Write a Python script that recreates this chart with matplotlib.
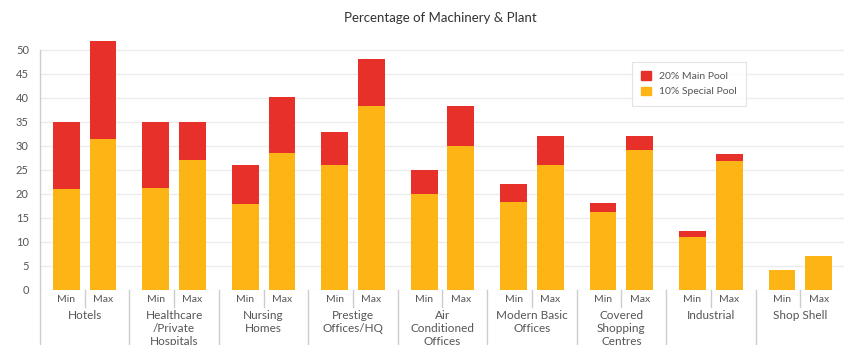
import matplotlib.pyplot as plt
import matplotlib.transforms as mtransforms
from matplotlib.patches import Patch
import numpy as np

plt.rcParams['font.family'] = ['Lato', 'DejaVu Sans']

groups = ['Hotels', 'Healthcare\n/Private\nHospitals', 'Nursing\nHomes',
          'Prestige\nOffices/HQ', 'Air\nConditioned\nOffices', 'Modern Basic\nOffices',
          'Covered\nShopping\nCentres', 'Industrial', 'Shop Shell']
special_min = [21, 21.2, 18, 26, 20, 18.3, 16.2, 11.1, 4.2]
total_min = [35, 35, 26, 33, 25, 22.1, 18.2, 12.2, 4.2]
special_max = [31.4, 27, 28.5, 38.3, 30, 26, 29.2, 26.9, 7.1]
total_max = [51.8, 35, 40.3, 48.2, 38.3, 32, 32, 28.3, 7.1]

red = '#e8302a'
yellow = '#fdb515'

fig = plt.figure(figsize=(8.45, 3.45), dpi=100)
fig.set_facecolor('w')
ax = fig.add_axes([40/845, 55/345, 805/845, 252/345])

n = len(groups)
centers = np.arange(n) + 0.5
off, w = 0.205, 0.30
smin = np.array(special_min); smax = np.array(special_max)
mmin = np.array(total_min) - smin
mmax = np.array(total_max) - smax

ax.bar(centers - off, smin, w, color=yellow, zorder=2)
ax.bar(centers - off, mmin, w, bottom=smin, color=red, zorder=2)
ax.bar(centers + off, smax, w, color=yellow, zorder=2)
ax.bar(centers + off, mmax, w, bottom=smax, color=red, zorder=2)

ax.set_xlim(0, n)
ax.set_ylim(0, 52.5)
ax.set_yticks(range(0, 51, 5))
ax.yaxis.grid(True, color='#ececec', lw=1, zorder=0)
ax.tick_params(axis='y', length=0, labelsize=8, labelcolor='#555555', pad=8)
ax.set_xticks([])
for s in ['top', 'right', 'bottom', 'left']:
    ax.spines[s].set_visible(False)

trans = mtransforms.blended_transform_factory(ax.transData, ax.transAxes)
px = 1 / 252
# axis line and group separators
ax.plot([0, 0], [50 / 52.5, -60 * px], transform=trans, color='#cccccc', lw=1, clip_on=False)
for i in range(1, n + 1):
    ax.plot([i, i], [0, -60 * px], transform=trans, color='#cccccc', lw=1, clip_on=False)
for c in centers:
    ax.plot([c, c], [0, -17 * px], transform=trans, color='#cccccc', lw=1, clip_on=False)
    ax.text(c - off, -9 * px, 'Min', transform=trans, ha='center', va='center',
            fontsize=7.5, color='#555555')
    ax.text(c + off, -9 * px, 'Max', transform=trans, ha='center', va='center',
            fontsize=7.5, color='#555555')
for c, g in zip(centers, groups):
    ax.text(c, -20 * px, g, transform=trans, ha='center', va='top', fontsize=8.5,
            color='#555555', linespacing=1.2)

fig.text(440/845, 1 - 18/345, 'Percentage of Machinery & Plant', ha='center', va='center',
         fontsize=9.5, color='#333333')

handles = [Patch(color=red, label='20% Main Pool'), Patch(color=yellow, label='10% Special Pool')]
leg = ax.legend(handles=handles, loc='upper left', bbox_to_anchor=((632 - 40) / 805, (290 - 62) / 252),
                fontsize=7.5, frameon=True, fancybox=False, handlelength=0.9, handleheight=0.9,
                handletextpad=0.8, borderpad=0.9, labelspacing=0.5, labelcolor='#555555',
                borderaxespad=0)
leg.get_frame().set_edgecolor('#dddddd')
leg.get_frame().set_linewidth(0.8)

fig.savefig('out.png', dpi=100)
